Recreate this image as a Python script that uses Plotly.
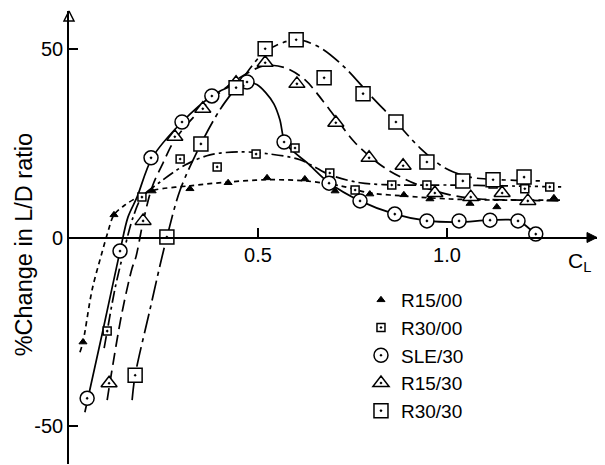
import plotly.graph_objects as go

# ---------------- measured points (markers) ----------------
r1500_x = [0.037, 0.119, 0.220, 0.320, 0.421, 0.524, 0.624, 0.704, 0.796, 0.886, 0.955, 1.061, 1.132, 1.220, 1.283]
r1500_y = [-27.7, 6.0, 12.3, 12.9, 14.5, 15.8, 15.5, 12.3, 11.5, 11.3, 10.2, 9.0, 8.1, 9.7, 10.5]

r3000_x = [0.101, 0.193, 0.294, 0.392, 0.495, 0.598, 0.690, 0.757, 0.854, 0.947, 1.042, 1.122, 1.206, 1.272]
r3000_y = [-24.8, 10.7, 20.8, 18.7, 22.1, 23.7, 17.1, 12.6, 13.9, 13.9, 14.5, 14.2, 12.9, 13.4]

sle30_x = [0.048, 0.135, 0.217, 0.299, 0.378, 0.471, 0.569, 0.688, 0.770, 0.862, 0.947, 1.032, 1.114, 1.188, 1.235]
sle30_y = [-42.6, -3.6, 21.1, 30.6, 37.5, 41.2, 25.3, 14.4, 9.7, 6.2, 4.4, 4.4, 4.6, 4.4, 0.9]

r1530_x = [0.106, 0.196, 0.280, 0.354, 0.442, 0.519, 0.603, 0.706, 0.794, 0.884, 0.968, 1.063, 1.146, 1.214]
r1530_y = [-38.6, 4.4, 26.7, 34.1, 41.0, 46.3, 40.7, 30.4, 21.1, 19.0, 11.8, 10.7, 11.8, 9.7]

r3030_x = [0.175, 0.259, 0.349, 0.442, 0.519, 0.601, 0.675, 0.778, 0.865, 0.947, 1.042, 1.122, 1.204]
r3030_y = [-36.5, 0.1, 24.8, 39.7, 50.0, 52.4, 42.3, 38.1, 30.6, 20.0, 15.0, 15.3, 16.0]

# ---------------- faired curves ----------------
c1500_x = [0.029, 0.037, 0.061, 0.087, 0.103, 0.119, 0.148, 0.188, 0.228, 0.320, 0.421, 0.524, 0.624, 0.717, 0.796, 0.886, 1.008, 1.140, 1.299]
c1500_y = [-30.4, -27.7, -13.9, -4.1, 1.5, 6.0, 8.6, 11.0, 12.6, 13.7, 14.7, 15.3, 15.0, 13.7, 11.8, 11.0, 10.2, 9.9, 9.9]

c3000_x = [0.093, 0.101, 0.122, 0.146, 0.169, 0.193, 0.241, 0.307, 0.373, 0.452, 0.532, 0.611, 0.690, 0.770, 0.876, 1.008, 1.140, 1.304]
c3000_y = [-29.3, -24.8, -13.4, -3.3, 5.2, 10.7, 14.7, 19.2, 21.9, 22.7, 22.1, 20.6, 16.6, 14.5, 13.9, 13.9, 13.7, 13.4]

csle_x = [0.042, 0.090, 0.135, 0.156, 0.180, 0.220, 0.299, 0.378, 0.431, 0.471, 0.497, 0.521, 0.542, 0.558, 0.571, 0.598, 0.630, 0.688, 0.770, 0.862, 0.950, 1.032, 1.114, 1.188, 1.235]
csle_y = [-46.3, -24.5, -3.6, 5.4, 10.7, 21.1, 30.6, 37.5, 40.2, 41.2, 40.5, 38.3, 35.4, 31.2, 25.3, 22.4, 19.8, 14.5, 9.7, 6.2, 4.4, 4.1, 4.6, 4.4, 0.7]

c1530_x = [0.101, 0.108, 0.140, 0.167, 0.177, 0.196, 0.220, 0.249, 0.280, 0.354, 0.444, 0.516, 0.571, 0.624, 0.690, 0.757, 0.836, 0.929, 1.008, 1.087, 1.193, 1.299]
c1530_y = [-43.1, -38.6, -20.0, -8.1, -5.2, 4.1, 13.4, 19.8, 25.9, 34.4, 41.8, 45.5, 45.0, 41.8, 33.8, 25.1, 18.4, 13.7, 11.3, 10.2, 9.9, 9.7]

c3030_x = [0.167, 0.175, 0.214, 0.241, 0.259, 0.294, 0.349, 0.399, 0.442, 0.519, 0.601, 0.664, 0.730, 0.796, 0.865, 0.929, 0.995, 1.061, 1.140, 1.246]
c3030_y = [-43.1, -36.5, -19.2, -7.3, 0.1, 12.6, 24.8, 33.8, 39.7, 49.2, 52.4, 50.3, 45.0, 37.8, 30.6, 23.7, 18.4, 16.0, 15.3, 15.0]

names = ["R15/00", "R30/00", "SLE/30", "R15/30", "R30/30"]
x_ticks = [0.5, 1.0]
x_ticktext = ["0.5", "1.0"]
y_ticks = [-50, 0, 50]
y_ticktext = ["-50", "0", "50"]
x_range = [0, 1.397]
y_range = [-60, 60]

fig = go.Figure()

curves = [
    (c1500_x, c1500_y, "5px,4px"),
    (c3000_x, c3000_y, "12px,4px,3px,4px"),
    (csle_x, csle_y, "solid"),
    (c1530_x, c1530_y, "12px,6px"),
    (c3030_x, c3030_y, "20px,5px,4px,5px"),
]
for cx, cy, dash in curves:
    fig.add_trace(go.Scatter(
        x=cx, y=cy, mode="lines", showlegend=False, hoverinfo="skip",
        line=dict(color="black", width=1.7, dash=dash, shape="spline", smoothing=0.9),
    ))

markers = [
    (r1500_x, r1500_y, "triangle-up", 7, "black", 1.0),
    (r3000_x, r3000_y, "square-dot", 8, "white", 1.5),
    (sle30_x, sle30_y, "circle-dot", 14, "white", 1.5),
    (r1530_x, r1530_y, "triangle-up-dot", 14, "white", 1.5),
    (r3030_x, r3030_y, "square-dot", 14, "white", 1.5),
]
for (mx, my, sym, size, fill, lw), name in zip(markers, names):
    fig.add_trace(go.Scatter(
        x=mx, y=my, mode="markers", name=name,
        marker=dict(symbol=sym, size=size, color=fill, line=dict(color="black", width=lw)),
    ))

# axis arrowheads: arrow markers whose tips sit at the axis ends
fig.add_trace(go.Scatter(
    x=[x_range[1]], y=[0], mode="markers", showlegend=False, hoverinfo="skip", cliponaxis=False,
    marker=dict(symbol="arrow-right", size=10, color="black", line=dict(color="black", width=1)),
))
fig.add_trace(go.Scatter(
    x=[0], y=[y_range[1]], mode="markers", showlegend=False, hoverinfo="skip", cliponaxis=False,
    marker=dict(symbol="arrow-up-open", size=10, color="black", line=dict(color="black", width=1.5)),
))

fig.update_layout(
    width=605, height=465,
    margin=dict(l=69, r=8, t=11, b=1),
    paper_bgcolor="white", plot_bgcolor="white",
    font=dict(family="Liberation Sans, Arial, sans-serif", size=20, color="black"),
    xaxis=dict(range=x_range, anchor="free", position=0.5,
               showline=True, linecolor="black", linewidth=1.6,
               ticks="inside", ticklen=9, tickwidth=1.5, tickcolor="black",
               tickvals=x_ticks, ticktext=x_ticktext,
               showgrid=False, zeroline=False, fixedrange=True),
    yaxis=dict(range=y_range, showline=True, linecolor="black", linewidth=1.6,
               ticks="inside", ticklen=9, tickwidth=1.5, tickcolor="black",
               tickvals=y_ticks, ticktext=y_ticktext,
               showgrid=False, zeroline=False, fixedrange=True),
    legend=dict(x=0.553, y=0.404, xanchor="left", yanchor="top",
                bgcolor="rgba(0,0,0,0)", font=dict(size=19), itemsizing="trace",
                tracegroupgap=0),
    showlegend=True,
)

# axis titles
fig.add_annotation(x=1.35, y=-6.5, xref="x", yref="y", text="C<sub>L</sub>",
                   showarrow=False, font=dict(size=21), xanchor="center", yanchor="middle")
fig.add_annotation(x=-0.085, y=0.483, xref="paper", yref="paper", text="%Change in L/D ratio",
                   textangle=-90, showarrow=False, font=dict(size=23.5),
                   xanchor="center", yanchor="middle")

fig.write_html("out.html")
